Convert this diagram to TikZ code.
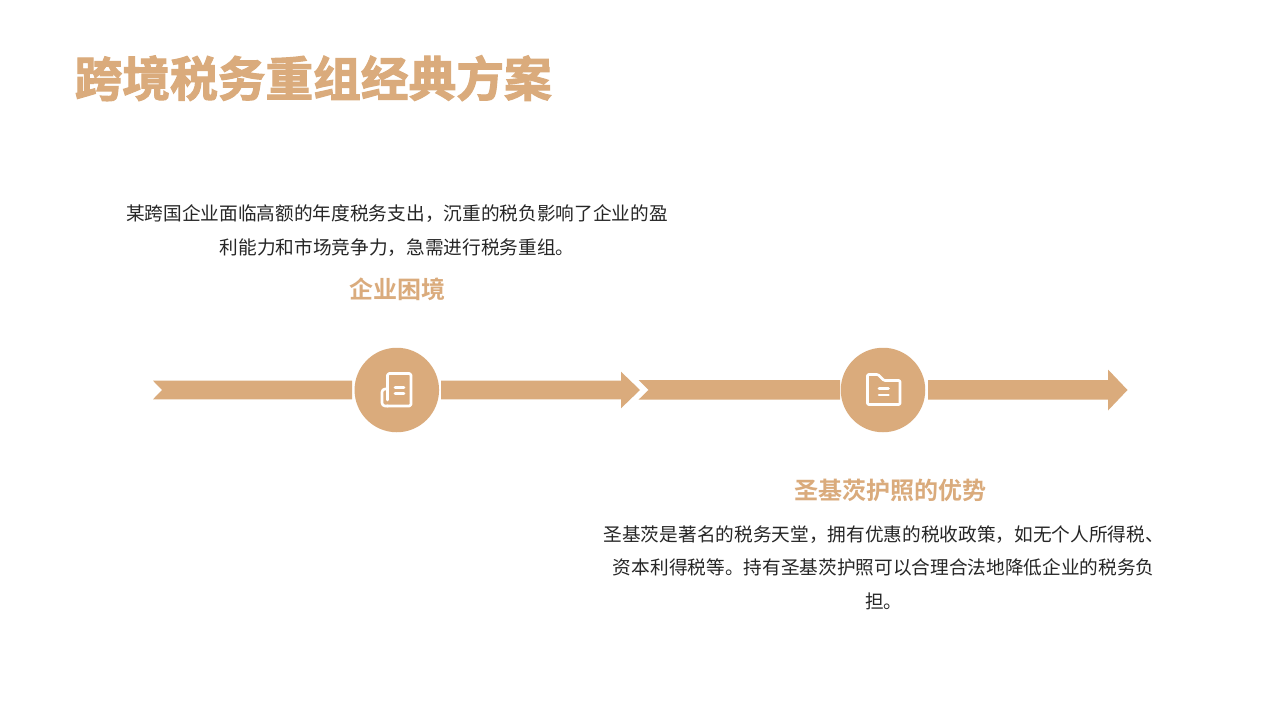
\documentclass[tikz,border=0pt]{standalone}
\usepackage{fontspec}
\setmainfont{Noto Sans CJK SC}
\newfontfamily\titlefont[FakeBold=2.2]{Noto Sans CJK SC Bold}
\newfontfamily\headfont{Noto Sans CJK SC Bold}
\definecolor{tan}{HTML}{DAAB7C}
\definecolor{ink}{HTML}{262626}
\tikzset{
  bar/.style={fill=tan,draw=none},
  disc/.style={circle,fill=tan,draw=none,minimum size=84.5pt,inner sep=0pt},
  icon/.style={draw=white,line width=2.6pt,line join=round,line cap=round},
  body/.style={text=ink,font=\fontsize{18.67}{22}\selectfont,inner sep=0pt,anchor=center},
  head/.style={text=tan,font=\fontsize{24}{28}\headfont,inner sep=0pt,anchor=center},
  heading/.style={text=tan,font=\fontsize{47.7}{56}\titlefont,inner sep=0pt,anchor=west}
}
\begin{document}
\begin{tikzpicture}[x=1pt,y=-1pt]
\useasboundingbox (0,0) rectangle (1280,720);
\fill[white] (0,0) rectangle (1280,720);
\node[heading] (title) at (74.5,78.2) {跨境税务重组经典方案};
\node[body] (a1) at (397,213.5) {某跨国企业面临高额的年度税务支出，沉重的税负影响了企业的盈};
\node[body] (a2) at (397.3,247.5) {利能力和市场竞争力，急需进行税务重组。};
\node[head] (ah) at (397,289) {企业困境};
\node[head] (bh) at (890,490) {圣基茨护照的优势};
\node[body] (b1) at (883.7,534.5) {圣基茨是著名的税务天堂，拥有优惠的税收政策，如无个人所得税、};
\node[body] (b2) at (883.7,567) {资本利得税等。持有圣基茨护照可以合理合法地降低企业的税务负};
\node[body] (b3) at (883.7,601) {担。};
% arrows
\fill[bar] (153,380.7) -- (352,380.7) -- (352,399.3) -- (153,399.3) -- (162,390) -- cycle;
\fill[bar] (441,380.7) -- (621,380.7) -- (621,371.7) -- (640,390) -- (621,408.3) -- (621,399.3) -- (441,399.3) -- cycle;
\fill[bar] (638.5,380) -- (840,380) -- (840,399.7) -- (638.5,399.7) -- (648.5,390) -- cycle;
\fill[bar] (928,380) -- (1108,380) -- (1108,369.5) -- (1127.5,390) -- (1108,410.5) -- (1108,399.7) -- (928,399.7) -- cycle;
\node[disc] (c1) at (396.8,390) {};
\node[disc] (c2) at (883,390) {};
% icon 1: document roll
\draw[icon] (387.5,400) -- (387.5,375) [rounded corners=1.5pt] -- (387.5,373.5) -- (411,373.5) -- (411,406) -- (387,406);
\draw[icon,rounded corners=3pt] (387.5,389) -- (382,389) -- (382,406) -- (388,406);
\draw[icon] (395,387.5) -- (404,387.5) (395,393.5) -- (404,393.5);
% icon 2: folder
\draw[icon,rounded corners=1pt] (867.5,374.5) -- (878,374.5) -- (884,380.5) -- (900,380.5) -- (900,404.5) -- (867.5,404.5) -- cycle;
\draw[icon] (879,388.5) -- (888.5,388.5) (879,395) -- (888.5,395);
\end{tikzpicture}
\end{document}
